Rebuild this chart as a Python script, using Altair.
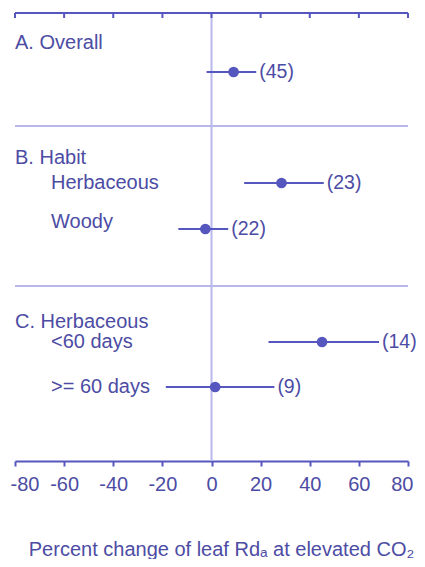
import altair as alt
import pandas as pd

# ---- data ----
headers = ["A. Overall", "B. Habit", "C. Herbaceous"]
row_labels = ["", "Herbaceous", "Woody", "<60 days", ">= 60 days"]
means = [9, 28.5, -2.5, 45, 1.5]
ci_low = [-2, 13.3, -13.5, 23.2, -18.6]
ci_high = [18.2, 45.7, 6.8, 68.2, 25.6]
n_obs = [45, 23, 22, 14, 9]
tick_values = [-80, -60, -40, -20, 0, 20, 40, 60, 80]

# ---- layout (vertical slots in plot pixels from the top) ----
PLOT_W, PLOT_H = 393, 448
row_slot = [59, 170, 216, 329, 374]
row_label_slot = [59, 170, 209, 329, 374]
header_slot = [30, 145, 309]
separator_slot = [113, 273]

TEXT = "#4c4ca4"
MARK = "#5656bf"
LIGHT = "#b8b8ec"
FONT = "Liberation Sans"
FS = 20

rows = pd.DataFrame({
    "label": row_labels, "mean": means, "lo": ci_low, "hi": ci_high,
    "n": [f"({v})" for v in n_obs], "slot": row_slot, "lslot": row_label_slot,
})
hdr = pd.DataFrame({"label": headers, "slot": header_slot})
seps = pd.DataFrame({"slot": separator_slot})
ticks = pd.DataFrame({"t": tick_values})

xs = alt.Scale(domain=[-80, 80], nice=False, zero=False)
ys = alt.Scale(domain=[0, PLOT_H], reverse=True)

xaxis = alt.Axis(
    values=tick_values, grid=False, domainColor=MARK, domainWidth=2,
    tickColor=MARK, tickWidth=2, tickSize=5, labelFont=FONT, labelFontSize=FS,
    labelColor=TEXT, labelPadding=8, labelFlush=True, labelFlushOffset=5,
    labelExpr="'' + datum.value",
    title="Percent change of leaf Rdₐ at elevated CO₂", titleFont=FONT,
    titleFontSize=20, titleFontWeight="normal", titleColor=TEXT,
    titleBaseline="alphabetic", titleX=206, titleY=94, titleAlign="center",
)


def X(field):
    return alt.X(field, scale=xs, axis=xaxis)


zero = alt.Chart(pd.DataFrame({"z": [0]})).mark_rule(color=LIGHT, strokeWidth=2).encode(
    x=X("z:Q")
)
sep = alt.Chart(seps).mark_rule(color=LIGHT, strokeWidth=2).encode(
    y=alt.Y("slot:Q", scale=ys, axis=None)
)
top_line = alt.Chart(seps.head(1)).mark_rule(color=MARK, strokeWidth=2).encode(
    y=alt.value(0)
)
top_ticks = alt.Chart(ticks).mark_rule(color=MARK, strokeWidth=2).encode(
    x=X("t:Q"), y=alt.value(0), y2=alt.value(5)
)
ci = alt.Chart(rows).mark_rule(color=MARK, strokeWidth=2).encode(
    x=X("lo:Q"), x2="hi:Q",
    y=alt.Y("slot:Q", scale=ys, axis=None),
)
pts = alt.Chart(rows).mark_circle(color=MARK, size=115, opacity=1).encode(
    x=X("mean:Q"), y=alt.Y("slot:Q", scale=ys, axis=None)
)
nlab = alt.Chart(rows).mark_text(
    align="left", baseline="middle", dx=3, font=FONT, fontSize=19.5, color=TEXT
).encode(
    x=X("hi:Q"), y=alt.Y("slot:Q", scale=ys, axis=None),
    text="n:N",
)
rlab = alt.Chart(rows).mark_text(
    align="left", baseline="middle", dx=36, font=FONT, fontSize=FS, color=TEXT
).encode(
    x=alt.datum(-80, scale=xs, axis=xaxis), y=alt.Y("lslot:Q", scale=ys, axis=None),
    text="label:N"
)
hlab = alt.Chart(hdr).mark_text(
    align="left", baseline="middle", dx=0, font=FONT, fontSize=FS, color=TEXT
).encode(
    x=alt.datum(-80, scale=xs, axis=xaxis), y=alt.Y("slot:Q", scale=ys, axis=None),
    text="label:N"
)

chart = alt.layer(
    zero, sep, top_line, top_ticks, ci, pts, nlab, rlab, hlab
).properties(
    width=PLOT_W, height=PLOT_H,
    autosize=alt.AutoSizeParams(type="none"),
    padding={"left": 7, "top": 5, "right": 9, "bottom": 98},
).configure_view(stroke=None)

chart.save("out.html", embed_options={"renderer": "svg", "actions": False})
